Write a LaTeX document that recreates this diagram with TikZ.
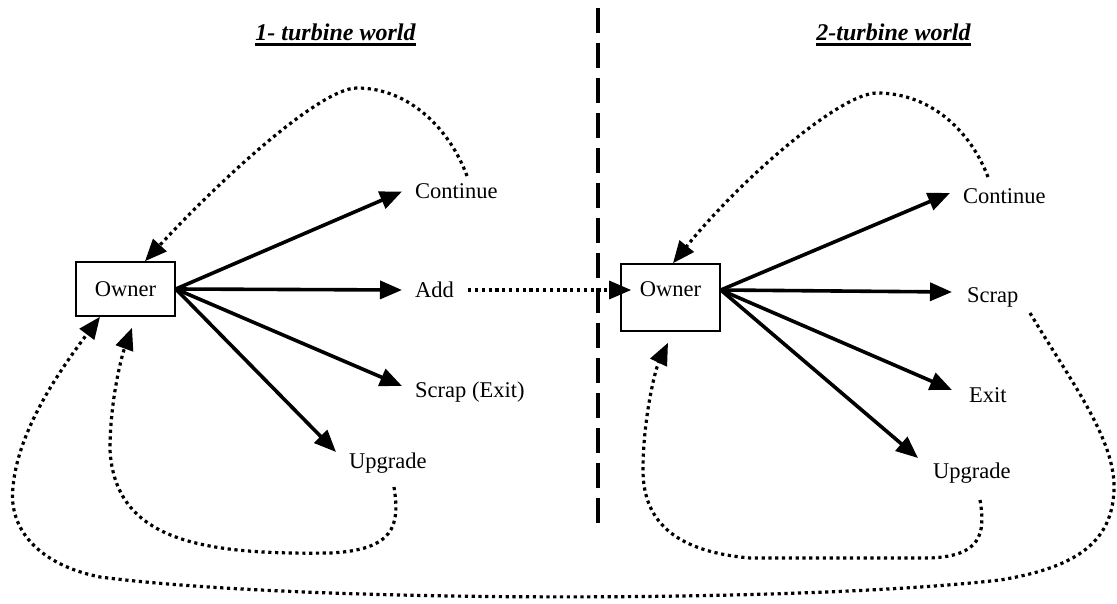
\documentclass[tikz,border=0pt]{standalone}
\usepackage{fontspec}
\setmainfont{Liberation Serif}
\usetikzlibrary{arrows.meta}
\begin{document}
\begin{tikzpicture}[x=1pt,y=-1pt,
  lbl/.style={font=\fontsize{22.5}{27}\selectfont, anchor=west, inner sep=0pt},
  ttl/.style={font=\fontsize{24}{28}\selectfont\bfseries\itshape, anchor=base, inner sep=0pt},
  ownerbox/.style={draw, line width=1.6pt, minimum width=99pt, inner xsep=0pt, inner ysep=0pt,
                   font=\fontsize{22.5}{27}\selectfont},
  arr/.style={line width=3.6pt, -{Triangle[length=22pt,width=18pt]}},
  dotarr/.style={line width=3.2pt, dash pattern=on 3.2pt off 3.6pt, -{Triangle[length=22pt,width=18pt]}},
  sep/.style={line width=3.4pt, dash pattern=on 25pt off 10pt}]
\useasboundingbox (0,0) rectangle (1117,604);

% titles
\node[ttl] (t1) at (335.5,41) {1- turbine world};
\node[ttl] (t2) at (893.5,41) {2-turbine world};
\draw[line width=2.2pt] ([yshift=-3.5pt]t1.base west) -- ([yshift=-3.5pt]t1.base east);
\draw[line width=2.2pt] ([yshift=-3.5pt]t2.base west) -- ([yshift=-3.5pt]t2.base east);

% separator
\draw[sep] (598,8) -- (598,531);

% owner boxes
\node[ownerbox, text height=34pt, text depth=20pt] (o1) at (125.5,289) {Owner};
\node[ownerbox, text height=33pt, text depth=34pt] (o2) at (670.5,297.5) {Owner};

% labels left
\node[lbl] (c1) at (415,191.5) {Continue};
\node[lbl] (a1) at (415,290) {Add};
\node[lbl] (s1) at (415,392) {Scrap (Exit)};
\node[lbl] (u1) at (349,463) {Upgrade};

% labels right
\node[lbl] (c2) at (963,196) {Continue};
\node[lbl] (s2) at (967,297) {Scrap};
\node[lbl] (e2) at (969,395.5) {Exit};
\node[lbl] (u2) at (933,473) {Upgrade};

% main arrows left
\draw[arr] (o1.east) -- ([xshift=-13pt]c1.west);
\draw[arr] (o1.east) -- ([xshift=-13pt]a1.west);
\draw[arr] (o1.east) -- ([shift={(-13pt,6pt)}]s1.west);
\draw[arr] (o1.east) -- ([shift={(-13pt,11pt)}]u1.west);

% main arrows right
\draw[arr] ([yshift=7.5pt]o2.east) -- ([shift={(-13pt,3pt)}]c2.west);
\draw[arr] ([yshift=7.5pt]o2.east) -- ([shift={(-15pt,5pt)}]s2.west);
\draw[arr] ([yshift=7.5pt]o2.east) -- ([shift={(-17pt,5.5pt)}]e2.west);
\draw[arr] ([yshift=7.5pt]o2.east) -- ([shift={(-15pt,15pt)}]u2.west);

% free ends of loops
\coordinate (tl) at (467,176);
\coordinate (tr) at (988,177);
\coordinate (ul) at (394,487);
\coordinate (ur) at (980,500);
\coordinate (bs) at (1030,313);

% Add -> second owner
\draw[dotarr] ([xshift=14pt]a1.east) -- ([shift={(11pt,7.5pt)}]o2.west);

% top loops
\draw[dotarr] (tl) .. controls (450,130) and (410,88) .. (357,88)
  .. controls (320,88) and (220,180) .. ([xshift=19.5pt]o1.north);
\draw[dotarr] (tr) .. controls (970,130) and (930,93) .. (877,93)
  .. controls (840,93) and (740,180) .. ([xshift=2.5pt]o2.north);

% upgrade loops
\draw[dotarr] (ul) .. controls (400,525) and (395,550) .. (330,553)
  .. controls (200,555) and (115,540) .. (110,450)
  .. controls (110,400) and (122,355) .. ([shift={(6.5pt,-11pt)}]o1.south);
\draw[dotarr] (ur) .. controls (986,535) and (980,556) .. (930,558)
  -- (750,558)
  .. controls (680,552) and (643,525) .. (643,470)
  .. controls (643,420) and (655,370) .. ([shift={(-2.5pt,-11pt)}]o2.south);

% big loop from Scrap back to first owner
\draw[dotarr] (bs) .. controls (1070,380) and (1116,440) .. (1114,490)
  .. controls (1112,540) and (1080,567) .. (1000,580)
  .. controls (800,603) and (300,603) .. (100,577)
  .. controls (40,565) and (8,530) .. (13,487)
  .. controls (18,430) and (60,370) .. ([xshift=-25.5pt]o1.south);
\end{tikzpicture}
\end{document}
